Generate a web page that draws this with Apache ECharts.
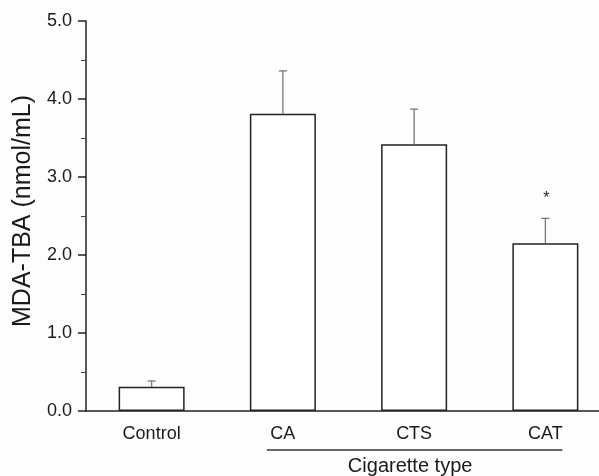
<!DOCTYPE html>
<html>
<head>
<meta charset="utf-8">
<script src="https://cdn.jsdelivr.net/npm/echarts@6/dist/echarts.min.js"></script>
<style>
  html, body { margin: 0; padding: 0; background: #fdfdfd; }
  #charts { width: 599px; height: 476px; }
</style>
</head>
<body>
<div id="charts"></div>
<script>
    // data
    var categories = ['Control', 'CA', 'CTS', 'CAT'];
    var meanValues = [0.31, 3.81, 3.42, 2.15];
    var errorTops = [0.385, 4.36, 3.87, 2.47];
    var signifMarks = ['', '', '', '*'];
    var yTicks = ['0.0', '1.0', '2.0', '3.0', '4.0', '5.0'];
    var groupLabel = 'Cigarette type';

    var font = 'Liberation Sans, Arial, sans-serif';
    var myChart = echarts.init(document.getElementById('charts'));

    var option = {
        backgroundColor: '#fdfdfd',
        animation: false,
        grid: { left: 86, width: 525, top: 21, bottom: 65, outerBoundsMode: 'none', containLabel: false },
        xAxis: {
            type: 'category',
            data: categories,
            axisLine: { lineStyle: { color: '#222', width: 1.5 } },
            axisTick: { alignWithLabel: true, length: 8, lineStyle: { color: '#222', width: 1.5 } },
            axisLabel: { color: '#1a1a1a', fontSize: 18, fontFamily: font, margin: 14 }
        },
        yAxis: {
            type: 'value',
            min: 0,
            max: 5,
            interval: 1,
            name: 'MDA-TBA (nmol/mL)',
            nameLocation: 'middle',
            nameGap: 48,
            nameTextStyle: { color: '#1a1a1a', fontSize: 25, fontFamily: font, padding: [0, 0, 0, 10] },
            splitLine: { show: false },
            axisLine: { show: true, lineStyle: { color: '#222', width: 1.5 } },
            axisTick: { show: true, length: 8, lineStyle: { color: '#222', width: 1.5 } },
            minorTick: { show: true, splitNumber: 2, length: 5, lineStyle: { color: '#444', width: 1 } },
            axisLabel: {
                color: '#1a1a1a', fontSize: 18, fontFamily: font, margin: 14,
                formatter: function (v) { return yTicks[Math.round(v)]; }
            }
        },
        series: [
            {
                type: 'bar',
                data: meanValues,
                barWidth: 66,
                itemStyle: { color: '#ffffff', borderColor: '#222', borderWidth: 1.5 },
                z: 2
            },
            {
                type: 'custom',
                data: categories.map(function (c, i) { return [i, meanValues[i], errorTops[i]]; }),
                renderItem: function (params, api) {
                    var base = api.coord([api.value(0), api.value(1)]);
                    var top = api.coord([api.value(0), api.value(2)]);
                    var style = { stroke: '#777', lineWidth: 1.3 };
                    return {
                        type: 'group',
                        children: [
                            { type: 'line', shape: { x1: base[0], y1: base[1], x2: top[0], y2: top[1] }, style: style },
                            { type: 'line', shape: { x1: top[0] - 4, y1: top[1], x2: top[0] + 4, y2: top[1] }, style: style }
                        ]
                    };
                },
                z: 3
            },
            {
                type: 'custom',
                data: categories.map(function (c, i) { return [i, errorTops[i]]; }),
                renderItem: function (params, api) {
                    var mark = signifMarks[params.dataIndex];
                    if (!mark) return null;
                    var p = api.coord([api.value(0), api.value(1)]);
                    return {
                        type: 'text',
                        style: {
                            text: mark, x: p[0] + 1, y: p[1] - 20,
                            fill: '#222', font: '16px ' + font,
                            align: 'center', verticalAlign: 'middle'
                        }
                    };
                },
                z: 4
            }
        ]
    };
    myChart.setOption(option);

    // group underline and label below CA..CAT
    var left = myChart.convertToPixel({ xAxisIndex: 0 }, 'CA');
    var right = myChart.convertToPixel({ xAxisIndex: 0 }, 'CAT');
    var yLine = myChart.convertToPixel({ yAxisIndex: 0 }, 0) + 39;
    myChart.setOption({
        graphic: [
            {
                type: 'line',
                shape: { x1: left - 16, y1: yLine, x2: right + 17, y2: yLine },
                style: { stroke: '#333', lineWidth: 1.3 }
            },
            {
                type: 'text',
                x: (left + right) / 2 - 4,
                y: yLine + 16,
                style: {
                    text: groupLabel, fill: '#1a1a1a', font: '20px ' + font,
                    align: 'center', verticalAlign: 'middle'
                }
            }
        ]
    });
</script>
</body>
</html>
